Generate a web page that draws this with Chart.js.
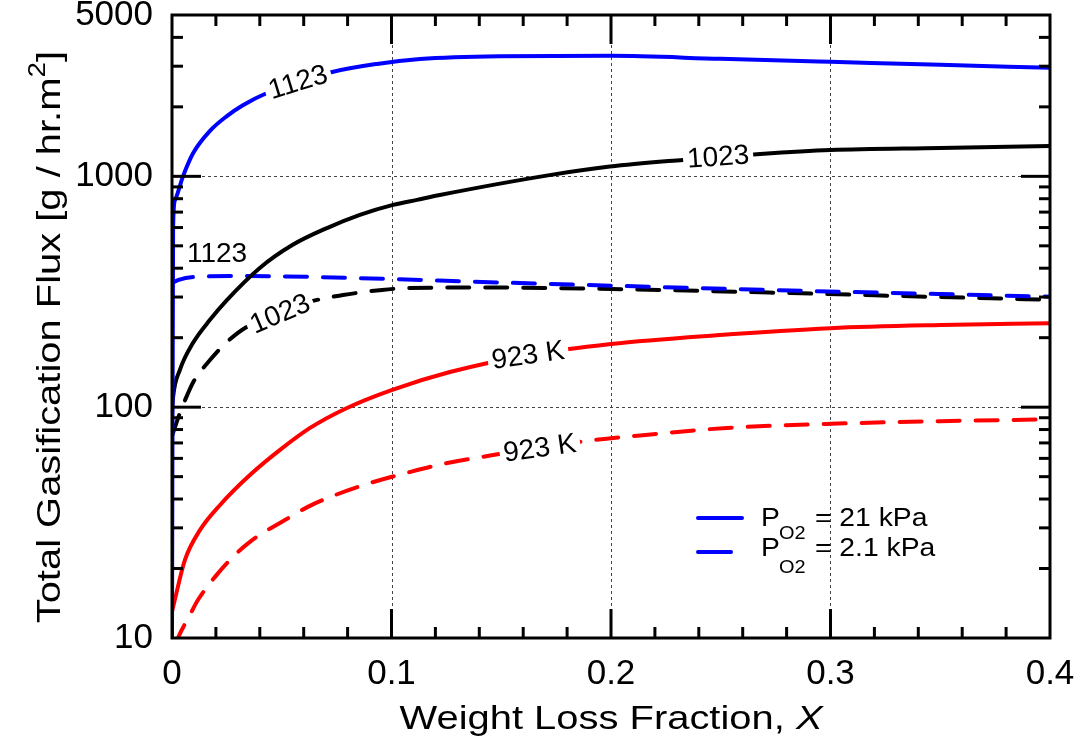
<!DOCTYPE html>
<html>
<head>
<meta charset="utf-8">
<script src="https://cdn.jsdelivr.net/npm/chart.js@4.4.1/dist/chart.umd.min.js"></script>
<style>
  html, body { margin: 0; padding: 0; background: #fff; }
  #wrap { width: 1082px; height: 750px; }
</style>
</head>
<body>
<div id="wrap"><canvas id="chart"></canvas></div>
<script>
const FONT = '"Liberation Sans", Arial, Helvetica, sans-serif';

// axis ticks
const xTicks = [0, 0.1, 0.2, 0.3, 0.4];
const yTicks = [10, 100, 1000, 5000];
const gridX = [0.1, 0.2, 0.3];
const gridY = [100, 1000];

// P_O2 = 21 kPa (solid)
const x1123a = [0, 0.0005, 0.0014, 0.005, 0.0096, 0.0173, 0.025, 0.0323, 0.0433, 0.072, 0.0934, 0.113, 0.149, 0.2, 0.25, 0.3, 0.35, 0.4];
const y1123a = [10, 600, 791, 1000, 1259, 1574, 1824, 2032, 2296, 2818, 3069, 3221, 3311, 3327, 3228, 3133, 3041, 2951];
const x1023a = [0, 0.0005, 0.0036, 0.0096, 0.0173, 0.025, 0.04, 0.055, 0.0706, 0.0856, 0.1007, 0.1116, 0.122, 0.172, 0.1995, 0.2328, 0.268, 0.3, 0.35, 0.4];
const y1023a = [95, 110.7, 145, 190, 239, 291, 401, 505, 597, 681, 752, 791, 830, 1012, 1102, 1178, 1250, 1300, 1327, 1355];
const x923a = [0, 0.0014, 0.0059, 0.0128, 0.0219, 0.0355, 0.0492, 0.0629, 0.079, 0.1, 0.1266, 0.162, 0.2, 0.248, 0.3, 0.35, 0.4];
const y923a = [13, 14.8, 21.8, 29.4, 37.7, 50.8, 65.3, 81.3, 98.5, 118.6, 142, 168, 188, 205, 220, 227, 231];

// P_O2 = 2.1 kPa (dashed)
const x1123b = [0, 0.003, 0.0096, 0.032, 0.1, 0.136, 0.2, 0.282, 0.35, 0.4];
const y1123b = [345, 356, 366, 370, 359, 350, 336, 320, 309, 301];
const x1023b = [0, 0.0036, 0.0059, 0.0096, 0.0173, 0.0241, 0.0342, 0.0629, 0.0779, 0.0957, 0.107, 0.14, 0.2, 0.282, 0.35, 0.4];
const y1023b = [75, 94.4, 107, 128, 160, 188, 223, 286, 306, 322, 328, 330, 325, 312, 300, 292];
const x923b = [0.0015, 0.0027, 0.0082, 0.0118, 0.0196, 0.0264, 0.0355, 0.0547, 0.0619, 0.072, 0.0902, 0.1084, 0.122, 0.1449, 0.189, 0.2169, 0.2528, 0.3, 0.35, 0.4];
const y923b = [9.3, 10, 12.6, 14.6, 18.4, 21.8, 26.1, 33.8, 37.0, 40.8, 46.9, 52.4, 56.4, 61.7, 71.4, 76, 81.3, 84.7, 87, 88.6];

// labels written on the curves
const curveLabels = [
  { text: '1123', x: 0.0574, y: 2560, rot: -17, gap: true },
  { text: '1023', x: 0.2488, y: 1214, rot: -4, gap: true },
  { text: '923 K', x: 0.1622, y: 168, rot: -8, gap: true },
  { text: '1123', x: 0.0205, y: 466, rot: 0, gap: false },
  { text: '1023', x: 0.0492, y: 254, rot: -23, gap: true },
  { text: '923 K', x: 0.1676, y: 66.5, rot: -8, gap: true },
];

const pts = (xs, ys) => xs.map((x, i) => ({ x, y: ys[i] }));

function series(label, xs, ys, color, dashed) {
  return {
    label,
    data: pts(xs, ys),
    borderColor: color,
    borderWidth: 4,
    borderDash: dashed ? [22, 16] : [],
    borderCapStyle: 'round',
    pointRadius: 0,
    fill: false,
    cubicInterpolationMode: 'monotone',
    clip: 0,
  };
}

// draw text stretched horizontally by sx
function wideText(ctx, text, x, y, sx) {
  ctx.save();
  ctx.translate(x, y);
  ctx.scale(sx, 1);
  ctx.fillText(text, 0, 0);
  ctx.restore();
  return ctx.measureText(text).width * sx;
}

const frame = {
  id: 'frame',
  beforeDatasetsDraw(chart) {
    const { ctx, chartArea: a, scales: { x, y } } = chart;
    ctx.save();
    ctx.strokeStyle = '#444';
    ctx.lineWidth = 1;
    ctx.setLineDash([3, 3]);
    gridX.forEach(v => {
      const px = Math.round(x.getPixelForValue(v)) + 0.5;
      ctx.beginPath(); ctx.moveTo(px, a.top); ctx.lineTo(px, a.bottom); ctx.stroke();
    });
    gridY.forEach(v => {
      const py = Math.round(y.getPixelForValue(v)) + 0.5;
      ctx.beginPath(); ctx.moveTo(a.left, py); ctx.lineTo(a.right, py); ctx.stroke();
    });
    ctx.restore();
  },
  afterDatasetsDraw(chart) {
    const { ctx, chartArea: a, scales: { x, y } } = chart;
    ctx.save();

    // curve labels
    ctx.font = '28px ' + FONT;
    ctx.textAlign = 'center';
    ctx.textBaseline = 'middle';
    curveLabels.forEach(l => {
      const px = x.getPixelForValue(l.x), py = y.getPixelForValue(l.y);
      const w = ctx.measureText(l.text).width;
      ctx.save();
      ctx.translate(px, py);
      ctx.rotate(l.rot * Math.PI / 180);
      if (l.gap) {
        ctx.fillStyle = '#fff';
        ctx.fillRect(-w / 2 - 4, -13, w + 8, 26);
      }
      ctx.fillStyle = '#000';
      ctx.fillText(l.text, 0, 1);
      ctx.restore();
    });

    // inward tick marks
    ctx.strokeStyle = '#000';
    ctx.lineWidth = 3;
    const tick = (x0, y0, x1, y1) => { ctx.beginPath(); ctx.moveTo(x0, y0); ctx.lineTo(x1, y1); ctx.stroke(); };
    for (let i = 1; i < 20; i++) {
      const len = i % 5 === 0 ? 29 : 11;
      const px = x.getPixelForValue(i * 0.02);
      tick(px, a.bottom, px, a.bottom - len);
      tick(px, a.top, px, a.top + len);
    }
    [10, 100, 1000].forEach(dec => {
      for (let m = 1; m < 10; m++) {
        const v = dec * m;
        if (v <= 10 || v >= 5000) continue;
        const len = m === 1 ? 29 : 11;
        const py = y.getPixelForValue(v);
        tick(a.left, py, a.left + len, py);
        tick(a.right, py, a.right - len, py);
      }
    });

    ctx.strokeRect(a.left, a.top, a.right - a.left, a.bottom - a.top);
    ctx.restore();
  },
  afterDraw(chart) {
    const { ctx, chartArea: a } = chart;
    ctx.save();
    ctx.fillStyle = '#000';
    ctx.textBaseline = 'alphabetic';
    ctx.textAlign = 'left';

    // x axis title, stretched to the width seen in the picture
    const xa = 'Weight Loss Fraction, ';
    ctx.font = '33px ' + FONT;
    const wa = ctx.measureText(xa).width;
    ctx.font = 'italic 33px ' + FONT;
    const wb = ctx.measureText('X').width;
    const sx = 423 / (wa + wb);
    let tx = (a.left + a.right) / 2 - (wa + wb) * sx / 2;
    ctx.font = '33px ' + FONT;
    tx += wideText(ctx, xa, tx, 729, sx);
    ctx.font = 'italic 33px ' + FONT;
    wideText(ctx, 'X', tx, 729, sx);

    // y axis title with superscript
    const t1 = 'Total Gasification Flux [g / hr.m';
    ctx.font = '33px ' + FONT;
    const w1 = ctx.measureText(t1).width * sx;
    const w3 = ctx.measureText(']').width * sx;
    ctx.font = '23px ' + FONT;
    const w2 = ctx.measureText('2').width * sx;
    const total = w1 + w2 + w3;
    ctx.save();
    ctx.translate(60, 51 + total / 2);
    ctx.rotate(-Math.PI / 2);
    let sy = -total / 2;
    ctx.font = '33px ' + FONT;
    sy += wideText(ctx, t1, sy, 0, sx);
    ctx.font = '23px ' + FONT;
    sy += wideText(ctx, '2', sy, -15, sx);
    ctx.font = '33px ' + FONT;
    wideText(ctx, ']', sy, 0, sx);
    ctx.restore();

    // legend
    ctx.strokeStyle = '#0000ff';
    ctx.lineWidth = 4;
    ctx.lineCap = 'round';
    ctx.beginPath(); ctx.moveTo(698, 518); ctx.lineTo(742, 518); ctx.stroke();
    ctx.beginPath(); ctx.moveTo(698, 552); ctx.lineTo(731, 552); ctx.stroke();
    ctx.font = '25px ' + FONT;
    const ls = 88 / ctx.measureText('21 kPa').width;
    const rows = [['= 21 kPa', 526, 539], ['= 2.1 kPa', 556, 573]];
    rows.forEach(([rest, base, sub]) => {
      ctx.font = '25px ' + FONT;
      wideText(ctx, 'P', 761, base, ls);
      ctx.font = '19px ' + FONT;
      wideText(ctx, 'O2', 779, sub, 1.05);
      ctx.font = '25px ' + FONT;
      wideText(ctx, rest, 815, base, ls);
    });
    ctx.restore();
  },
};

new Chart(document.getElementById('chart'), {
  type: 'line',
  data: {
    datasets: [
      series('1123 K, 21 kPa', x1123a, y1123a, '#0000ff', false),
      series('1023 K, 21 kPa', x1023a, y1023a, '#000000', false),
      series('923 K, 21 kPa', x923a, y923a, '#ff0000', false),
      series('1123 K, 2.1 kPa', x1123b, y1123b, '#0000ff', true),
      series('1023 K, 2.1 kPa', x1023b, y1023b, '#000000', true),
      series('923 K, 2.1 kPa', x923b, y923b, '#ff0000', true),
    ],
  },
  options: {
    responsive: true,
    maintainAspectRatio: false,
    animation: false,
    devicePixelRatio: 1,
    layout: { padding: { top: 15, right: 32, left: 0, bottom: 0 } },
    plugins: { legend: { display: false }, tooltip: { enabled: false } },
    scales: {
      x: {
        type: 'linear',
        min: 0,
        max: 0.4,
        afterBuildTicks: s => { s.ticks = xTicks.map(v => ({ value: v })); },
        afterFit: s => { s.height = 112; s.paddingLeft = 0; s.paddingRight = 0; },
        grid: { display: false, drawTicks: false },
        border: { display: false },
        ticks: {
          autoSkip: false,
          maxRotation: 0,
          padding: 15,
          color: '#000',
          font: { family: FONT, size: 35 },
          callback: v => String(v),
        },
      },
      y: {
        type: 'logarithmic',
        min: 10,
        max: 5000,
        afterBuildTicks: s => { s.ticks = yTicks.map(v => ({ value: v })); },
        afterFit: s => { s.width = 172; s.paddingTop = 0; s.paddingBottom = 0; },
        grid: { display: false, drawTicks: false },
        border: { display: false },
        ticks: {
          autoSkip: false,
          padding: 19,
          color: '#000',
          font: { family: FONT, size: 35 },
          callback: v => String(v),
        },
      },
    },
  },
  plugins: [frame],
});
</script>
</body>
</html>
